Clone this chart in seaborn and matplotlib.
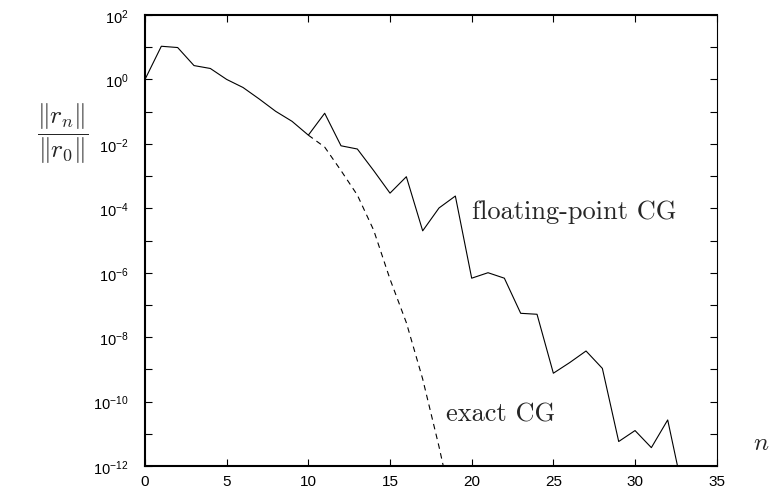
import numpy as np
import pandas as pd
import matplotlib
matplotlib.use("Agg")
import matplotlib.pyplot as plt
import seaborn as sns

# ---- data (log10 of relative residual) ----
n_float = list(range(0, 34))
log_float = [0.0, 1.03, 0.99, 0.43, 0.34, 0.0, -0.25, -0.61, -0.99, -1.30,
             -1.73, -1.05, -2.06, -2.16, -2.83, -3.53, -3.02, -4.70, -3.99, -3.62,
             -6.17, -6.00, -6.17, -7.26, -7.29, -9.12, -8.79, -8.43, -8.97, -11.24,
             -10.90, -11.43, -10.57, -12.95]
n_exact = list(range(10, 20))
log_exact = [-1.73, -2.10, -2.83, -3.59, -4.68, -6.20, -7.55, -9.30, -11.40, -13.70]

x_ticks = [0, 5, 10, 15, 20, 25, 30, 35]
y_exponents = list(range(-12, 3))

df_f = pd.DataFrame({"n": n_float, "r": np.power(10.0, log_float)})
df_e = pd.DataFrame({"n": n_exact, "r": np.power(10.0, log_exact)})

sns.set_style("ticks")
plt.rcParams["mathtext.fontset"] = "custom"
plt.rcParams["mathtext.rm"] = "Liberation Sans"
plt.rcParams["mathtext.it"] = "Liberation Sans:italic"
plt.rcParams["font.family"] = ["Liberation Sans", "DejaVu Sans"]

fig = plt.figure(figsize=(7.69, 4.89), dpi=100)
ax = fig.add_axes([145 / 769, 1 - 467 / 489, 571.7 / 769, 451 / 489])

sns.lineplot(data=df_f, x="n", y="r", ax=ax, color="black", linewidth=0.8)
sns.lineplot(data=df_e, x="n", y="r", ax=ax, color="black", linewidth=0.8,
             linestyle=(0, (5, 4)))

ax.set_yscale("log")
ax.set_xlim(0, 35)
ax.set_ylim(1e-12, 1e2)
ax.set_xticks(x_ticks)
ax.set_xticklabels([str(t) for t in x_ticks])
ax.set_yticks([10.0 ** k for k in y_exponents])
ax.set_yticklabels([r"$10^{%d}$" % k if k % 2 == 0 else "" for k in y_exponents])
ax.yaxis.set_minor_locator(matplotlib.ticker.NullLocator())
ax.set_xlabel("")
ax.set_ylabel("")

ax.tick_params(axis="both", which="major", direction="in", length=5, width=0.8,
               top=True, right=True, labelsize=10.5, colors="black")
ax.tick_params(axis="y", pad=12)
ax.tick_params(axis="x", pad=6, labelsize=11)
for s in ["left", "bottom", "top"]:
    ax.spines[s].set_linewidth(1.5)
    ax.spines[s].set_color("black")
ax.spines["right"].set_linewidth(0.8)
ax.spines["right"].set_color("black")

ax.text(20.0, 10 ** -4.31, "floating-point CG", family="cmr10", fontsize=19,
        ha="left", va="baseline")
ax.text(18.43, 10 ** -10.6, "exact CG", family="cmr10", fontsize=19,
        ha="left", va="baseline")

fig.text(63 / 769, 1 - 134 / 489, r"$\dfrac{\|r_n\|}{\|r_0\|}$", fontsize=18.5,
         math_fontfamily="cm", ha="center", va="center")
fig.text(761 / 769, 1 - 443 / 489, r"$n$", fontsize=18, math_fontfamily="cm",
         ha="center", va="center")

fig.savefig("out.png", dpi=100)
